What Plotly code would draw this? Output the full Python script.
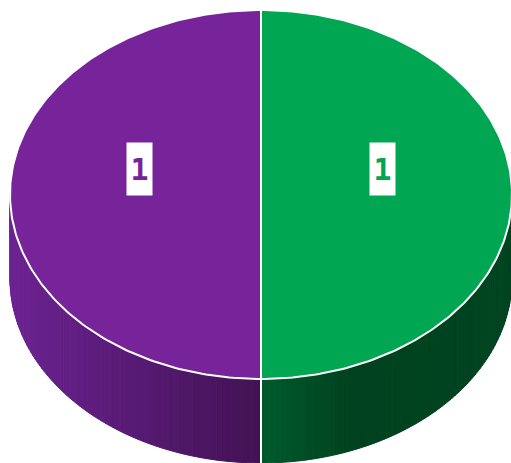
import numpy as np
import plotly.graph_objects as go

# ---- data ----
categories = ["Series 1", "Series 2"]
values = [1, 1]
label_texts = ["1", "1"]

# ---- style ----
W, H = 511, 463
CX, CY = 261.0, 194.5
RX, RY = 251.0, 184.5
DEPTH = 84.0
START_DEG = -90.0           # top of the pie, clockwise in screen coords
LABEL_R = 0.485
LABEL_LIFT = 26.0

top_colors = ["#00A651", "#77249A"]
side_stops = [
    [(0.0, (0, 90, 44)), (0.35, (0, 66, 31)), (1.0, (0, 68, 32))],
    [(0.0, (108, 35, 146)), (1.0, (66, 18, 84))],
]
label_font = "DejaVu Sans Mono"


def lerp_color(stops, f):
    f = min(max(f, 0.0), 1.0)
    for (f0, c0), (f1, c1) in zip(stops[:-1], stops[1:]):
        if f0 <= f <= f1:
            u = 0 if f1 == f0 else (f - f0) / (f1 - f0)
            return "rgb(%d,%d,%d)" % tuple(round(a + (b - a) * u) for a, b in zip(c0, c1))
    return "rgb(%d,%d,%d)" % stops[-1][1]


def pt(t, dy=0.0):
    return CX + RX * np.cos(t), CY + RY * np.sin(t) + dy


total = float(sum(values))
angles = []
a = np.radians(START_DEG)
for v in values:
    span = 2 * np.pi * v / total
    angles.append((a, a + span))
    a += span

fig = go.Figure()

# ---- side faces (front half only: screen angle 0..pi) ----
for i, (t0, t1) in enumerate(angles):
    segs = []
    for k in (-1, 0, 1):
        s0, s1 = t0 + 2 * np.pi * k, t1 + 2 * np.pi * k
        lo, hi = max(s0, 0.0), min(s1, np.pi)
        if hi > lo:
            segs.append((lo, hi))
    for lo, hi in segs:
        xs_all = [pt(lo)[0], pt(hi)[0]]
        xmin, xmax = min(xs_all), max(xs_all)
        n = 80
        ts = np.linspace(lo, hi, n + 1)
        for j in range(n):
            tt = np.linspace(ts[j], ts[j + 1], 4)
            tx, ty = pt(tt)
            bx, by = pt(tt[::-1], DEPTH)
            xm = 0.5 * (tx[0] + tx[-1])
            f = (xm - xmin) / (xmax - xmin) if xmax > xmin else 0
            col = lerp_color(side_stops[i], f)
            fig.add_trace(go.Scatter(
                x=np.concatenate([tx, bx, tx[:1]]),
                y=np.concatenate([ty, by, ty[:1]]),
                mode="lines", fill="toself", fillcolor=col,
                line=dict(color=col, width=1),
                hoverinfo="skip", showlegend=False))

# ---- side slice boundaries (vertical white edges on the front) ----
for (t0, t1) in angles:
    for t in (t0, t1):
        tm = np.mod(t, 2 * np.pi)
        if 0 < tm < np.pi:
            x0, y0 = pt(tm)
            fig.add_trace(go.Scatter(
                x=[x0, x0], y=[y0, y0 + DEPTH], mode="lines",
                line=dict(color="white", width=2),
                hoverinfo="skip", showlegend=False))

# ---- top faces ----
for i, (t0, t1) in enumerate(angles):
    tt = np.linspace(t0, t1, 200)
    ax, ay = pt(tt)
    fig.add_trace(go.Scatter(
        x=np.concatenate([[CX], ax, [CX]]),
        y=np.concatenate([[CY], ay, [CY]]),
        mode="lines", fill="toself", fillcolor=top_colors[i],
        line=dict(color="white", width=2),
        name=categories[i], hoverinfo="name", showlegend=False))

# ---- labels ----
for i, (t0, t1) in enumerate(angles):
    mid = 0.5 * (t0 + t1)
    lx = CX + LABEL_R * RX * np.cos(mid)
    ly = CY + LABEL_R * RY * np.sin(mid) - LABEL_LIFT
    fig.add_annotation(
        x=lx, y=ly, xref="x", yref="y",
        text="<b>%s</b>" % label_texts[i], showarrow=False,
        font=dict(family=label_font, size=30, color=top_colors[i]),
        bgcolor="white", width=25, height=52, borderpad=0,
        xanchor="center", yanchor="middle")

fig.update_layout(
    width=W, height=H, margin=dict(l=0, r=0, t=0, b=0),
    paper_bgcolor="white", plot_bgcolor="white",
    xaxis=dict(range=[0, W], visible=False, fixedrange=True),
    yaxis=dict(range=[H, 0], visible=False, fixedrange=True),
    showlegend=False,
)

fig.write_html(
    "out.html",
    config={"displayModeBar": False},
    post_script="document.body.style.margin='0';document.body.style.overflow='hidden';",
)
